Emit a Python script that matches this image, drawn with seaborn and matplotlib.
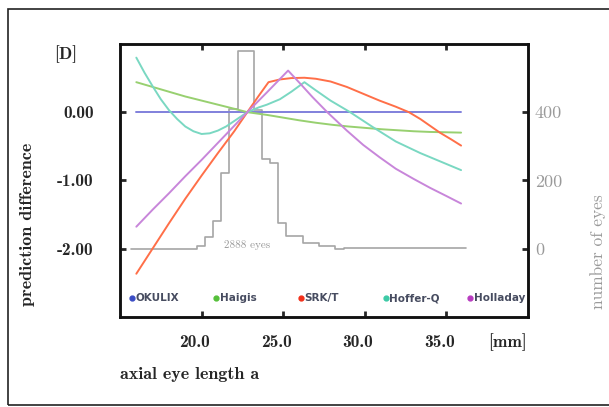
import numpy as np
import pandas as pd
import matplotlib
matplotlib.use("Agg")
import matplotlib.pyplot as plt
import seaborn as sns
from matplotlib.patches import Rectangle
from matplotlib.transforms import ScaledTranslation

# prediction difference [D] against axial eye length [mm]
okulix_x = [16.0, 35.9]
okulix_y = [0.0, 0.0]

haigis_x = [16.0, 17.0, 18.0, 19.0, 20.0, 21.0, 22.0, 22.8, 24.0, 25.0, 26.0,
            27.0, 28.0, 29.0, 30.0, 31.0, 32.0, 33.0, 34.0, 35.0, 35.9]
haigis_y = [0.44, 0.37, 0.30, 0.23, 0.17, 0.11, 0.05, 0.0, -0.04, -0.08, -0.12,
            -0.155, -0.185, -0.21, -0.23, -0.25, -0.265, -0.28, -0.29, -0.295, -0.30]

srkt_x = [16.0, 17.0, 18.0, 19.0, 20.0, 21.0, 22.0, 22.8, 23.5, 24.1, 24.8, 25.5,
          26.3, 27.0, 27.9, 28.9, 29.9, 30.9, 31.9, 32.7, 33.4, 34.0, 34.6, 35.3, 35.9]
srkt_y = [-2.37, -2.0, -1.63, -1.27, -0.93, -0.60, -0.28, 0.0, 0.24, 0.44, 0.48, 0.50,
          0.505, 0.49, 0.45, 0.37, 0.27, 0.17, 0.08, 0.0, -0.1, -0.2, -0.3, -0.40, -0.49]

hofferq_x = [16.0, 16.5, 17.0, 17.5, 18.0, 18.5, 19.0, 19.5, 20.0, 20.5, 21.0, 21.5,
             22.0, 22.8, 23.5, 24.0, 24.8, 25.5, 26.3, 27.0, 27.9, 29.1, 30.5, 31.9,
             33.4, 34.6, 35.9]
hofferq_y = [0.80, 0.58, 0.38, 0.19, 0.03, -0.10, -0.21, -0.28, -0.32, -0.31, -0.27, -0.21,
             -0.13, 0.0, 0.07, 0.11, 0.19, 0.30, 0.44, 0.32, 0.17, 0.0, -0.22, -0.43,
             -0.60, -0.72, -0.85]

holladay_x = [16.0, 17.0, 18.0, 19.0, 20.0, 21.0, 22.0, 22.8, 24.0, 25.3, 26.0, 26.8,
              27.7, 28.9, 29.9, 30.9, 31.9, 33.0, 34.0, 35.0, 35.9]
holladay_y = [-1.68, -1.43, -1.19, -0.94, -0.70, -0.45, -0.20, 0.0, 0.29, 0.61, 0.43, 0.22,
              0.0, -0.27, -0.48, -0.66, -0.83, -0.98, -1.11, -1.23, -1.34]

formulas = ["OKULIX", "Haigis", "SRK/T", "Hoffer-Q", "Holladay"]
line_colors = ["#8080dc", "#98d070", "#ff6f48", "#7ad8c2", "#c886da"]
dot_colors = ["#3a4cc4", "#55c03a", "#f2301a", "#3ccaa6", "#b83cc0"]

# number of eyes per 0.5 mm bin, 15.7 .. 36.2 mm
hist_edges = [round(15.7 + 0.5 * k, 2) for k in range(42)]
hist_counts = [0, 0, 0, 0, 0, 0, 0, 0, 6, 34, 82, 222, 410, 578, 578, 405, 262, 252,
               75, 37, 37, 16, 16, 6, 6, 0, 2, 2, 2, 2, 2, 2, 2, 2, 2, 2, 2, 2, 2, 2, 2]

x_ticks = [20, 25, 30, 35]
x_tick_labels = ["20.0", "25.0", "30.0", "35.0"]
y_ticks = [0, -1, -2]
y_tick_labels = ["0.00", "-1.00", "-2.00"]
n_ticks = [0, 200, 400]
n_tick_labels = ["0", "200", "400"]

bold = ["cmb10", "DejaVu Serif"]
regular = ["cmr10", "DejaVu Serif"]
gray = "#9a9a9a"

sns.set_style("ticks")

frames = []
for name, xs, ys in [("OKULIX", okulix_x, okulix_y), ("Haigis", haigis_x, haigis_y),
                     ("SRK/T", srkt_x, srkt_y), ("Hoffer-Q", hofferq_x, hofferq_y),
                     ("Holladay", holladay_x, holladay_y)]:
    frames.append(pd.DataFrame({"length": xs, "diff": ys, "formula": name}))
df = pd.concat(frames, ignore_index=True)

hist_df = pd.DataFrame({"center": [e + 0.25 for e in hist_edges[:-1]],
                        "eyes": hist_counts})

fig = plt.figure(figsize=(6.09, 4.07), dpi=100)
ax = fig.add_axes([120 / 609, 1 - 316.7 / 407, 408 / 609, 272.7 / 407])
ax2 = ax.twinx()

# histogram on the right axis, drawn behind the curves
sns.histplot(data=hist_df, x="center", weights="eyes", bins=hist_edges,
             element="step", fill=False, color="#a6a6a6", linewidth=1.2, ax=ax2)
ax2.set_ylim(-200, 600)
ax2.set_yticks(n_ticks)
ax2.set_yticklabels(n_tick_labels, fontfamily=regular, fontsize=13, color=gray)
ax2.set_ylabel("")
ax2.tick_params(axis="y", direction="in", length=4, width=2, pad=5)

ax.set_zorder(ax2.get_zorder() + 1)
ax.patch.set_visible(False)

sns.lineplot(data=df, x="length", y="diff", hue="formula", hue_order=formulas,
             palette=line_colors, estimator=None, sort=False, linewidth=1.4,
             legend=False, ax=ax)

ax.set_xlim(15, 40)
ax.set_ylim(-3, 1)
ax.set_xticks(x_ticks)
ax.set_xticklabels(x_tick_labels, fontfamily=bold, fontsize=12.5)
ax.set_yticks(y_ticks)
ax.set_yticklabels(y_tick_labels, fontfamily=bold, fontsize=12.5)
ax.set_xlabel("")
ax.set_ylabel("")
ax.tick_params(axis="x", direction="in", length=4, width=2, top=True, pad=13)
ax.tick_params(axis="y", direction="in", length=4, width=2, pad=19)
shift = ScaledTranslation(-7 / 100, 0, fig.dpi_scale_trans)
for lab in ax.get_xticklabels():
    lab.set_transform(lab.get_transform() + shift)

for a in (ax, ax2):
    for sp in a.spines.values():
        sp.set_linewidth(1.8)
        sp.set_color("#111111")

ax.text(22.8, -1.95, "2888 eyes", fontfamily=regular, fontsize=8, color=gray,
        ha="center", va="center")

# legend row along the bottom of the plot
for i, (name, c) in enumerate(zip(formulas, dot_colors)):
    xa = 0.029 + i * 0.2075
    ax.plot([xa], [0.068], "o", color=c, markersize=3.5, transform=ax.transAxes,
            clip_on=False)
    ax.text(xa + 0.008, 0.068, name, transform=ax.transAxes, fontsize=7.5,
            fontweight="bold", color="#474c60", ha="left", va="center",
            fontfamily="DejaVu Sans")

fig.text(28 / 609, 1 - 224 / 407, "prediction difference", rotation=90,
         ha="center", va="center", fontfamily=bold, fontsize=13)
fig.text(66 / 609, 1 - 54 / 407, "[D]", ha="center", va="center",
         fontfamily=bold, fontsize=12.5)
fig.text(507 / 609, 1 - 342 / 407, "[mm]", ha="center", va="center",
         fontfamily=bold, fontsize=12.5)
fig.text(120 / 609, 1 - 375 / 407, "axial eye length a", ha="left", va="center",
         fontfamily=bold, fontsize=13)
fig.text(598 / 609, 1 - 252 / 407, "number of eyes", rotation=90, ha="center",
         va="center", fontfamily=regular, fontsize=12.5, color=gray)

fig.patches.append(Rectangle((8 / 609, 2 / 407), 1.0, 1 - 11 / 407, fill=False,
                             edgecolor="#222222", linewidth=1.2,
                             transform=fig.transFigure, figure=fig))

fig.savefig("out.png", dpi=100)
